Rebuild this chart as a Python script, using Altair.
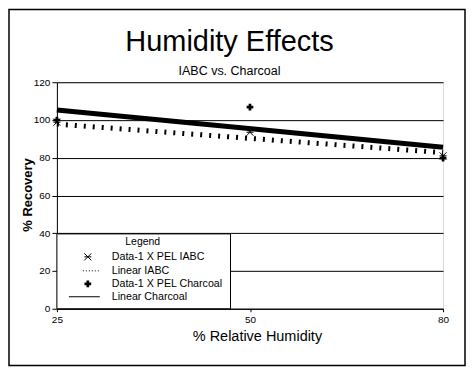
import altair as alt
import pandas as pd

FONT = "Liberation Sans"

# ---- data ----
humidity = ["25", "50", "80"]
iabc_pts = [98.8, 93.5, 81.0]
charcoal_pts = [100.0, 106.8, 79.8]
trend_x = ["25", "80"]
iabc_trend = [97.8, 82.7]
charcoal_trend = [105.3, 85.5]
y_ticks = [0, 20, 40, 60, 80, 100, 120]
legend_labels = ["Data-1 X PEL IABC", "Linear IABC", "Data-1 X PEL Charcoal", "Linear Charcoal"]

pts = pd.DataFrame({
    "h": humidity * 2,
    "v": iabc_pts + charcoal_pts,
    "s": ["IABC"] * 3 + ["Charcoal"] * 3,
})
iabc_df = pts[pts.s == "IABC"]
char_df = pts[pts.s == "Charcoal"]
iabc_tr = pd.DataFrame({"h": trend_x, "v": iabc_trend})
char_tr = pd.DataFrame({"h": trend_x, "v": charcoal_trend})

W, H = 387, 227

xs = alt.X("h:O", sort=humidity, scale=alt.Scale(type="point", padding=0, domain=humidity),
           axis=alt.Axis(title=None, labelAngle=0, labelFont=FONT, labelFontSize=10, labelColor="black",
                         domainColor="black", tickColor="black", tickSize=3, labelPadding=3,
                         values=["25", "80", "50"], grid=False))
ys = alt.Y("v:Q", scale=alt.Scale(domain=[0, 120], nice=False, zero=True),
           axis=alt.Axis(title=None, values=y_ticks, grid=True, gridColor="black", gridWidth=1,
                         gridOpacity=1, domainColor="black", tickColor="black", tickSize=5,
                         labelFont=FONT, labelFontSize=10, labelColor="black", labelPadding=2))

ASTER = "M-1,-1L1,1M-1,1L1,-1M-1,0L1,0"

base = alt.Chart(iabc_df).mark_point(shape=ASTER, size=49, color="black", filled=False,
                                     strokeWidth=1, opacity=1).encode(x=xs, y=ys)

one = alt.Data(values=[{}])

legend_box = alt.Chart(one).mark_rect(fill="white", stroke="black", strokeWidth=1).encode(
    x=alt.value(0), x2=alt.value(174), y=alt.value(152), y2=alt.value(227))

char_pts_layer = alt.Chart(char_df).mark_point(shape="cross", size=45, color="black", filled=True,
                                               opacity=1).encode(x=xs, y=ys)
iabc_line = alt.Chart(iabc_tr).mark_line(color="black", strokeWidth=5, strokeDash=[2, 7],
                                         strokeCap="butt").encode(x=xs, y=ys)
char_line = alt.Chart(char_tr).mark_line(color="black", strokeWidth=5).encode(x=xs, y=ys)

def txt(text, x, y, size=10, weight="normal", align="left", angle=0, baseline="middle"):
    return alt.Chart(one).mark_text(text=text, font=FONT, fontSize=size, fontWeight=weight,
                                    align=align, baseline=baseline, angle=angle,
                                    color="black").encode(x=alt.value(x), y=alt.value(y))

row_y = [175, 189, 202, 215]
leg = [
    txt("Legend", 86, 160, 10.5, align="center"),
    alt.Chart(one).mark_point(shape=ASTER, size=49, color="black", filled=False, strokeWidth=1,
                              opacity=1).encode(x=alt.value(31), y=alt.value(row_y[0])),
    alt.Chart(one).mark_rule(color="black", strokeWidth=1, strokeDash=[1, 2]).encode(
        x=alt.value(26), x2=alt.value(43), y=alt.value(row_y[1])),
    alt.Chart(one).mark_point(shape="cross", size=45, color="black", filled=True, opacity=1).encode(
        x=alt.value(31), y=alt.value(row_y[2])),
    alt.Chart(one).mark_rule(color="black", strokeWidth=1).encode(
        x=alt.value(12), x2=alt.value(43), y=alt.value(row_y[3])),
]
for lab, yy in zip(legend_labels, row_y):
    leg.append(txt(lab, 55, yy, 10.7))

border = alt.Chart(one).mark_rect(fill=None, stroke="black", strokeWidth=1.5).encode(
    x=alt.value(-48), x2=alt.value(409), y=alt.value(-73), y2=alt.value(284))

titles = [
    txt("Humidity Effects", 173, -31, 29, align="center", baseline="alphabetic"),
    txt("IABC vs. Charcoal", 173, -7, 12.5, align="center", baseline="alphabetic"),
    txt("% Recovery", -29, 113, 13, weight="bold", align="center", angle=270),
    txt("% Relative Humidity", 201, 255, 14.5, align="center"),
]

chart = alt.layer(
    base, legend_box, *leg, char_pts_layer, iabc_line, char_line, border, *titles
).properties(
    width=W, height=H,
    autosize=alt.AutoSizeParams(type="none"),
    padding={"left": 49, "top": 74, "right": 24, "bottom": 59},
).configure_view(stroke=None).configure(background="white")

chart.save("out.html", embed_options={"renderer": "svg", "actions": False})
